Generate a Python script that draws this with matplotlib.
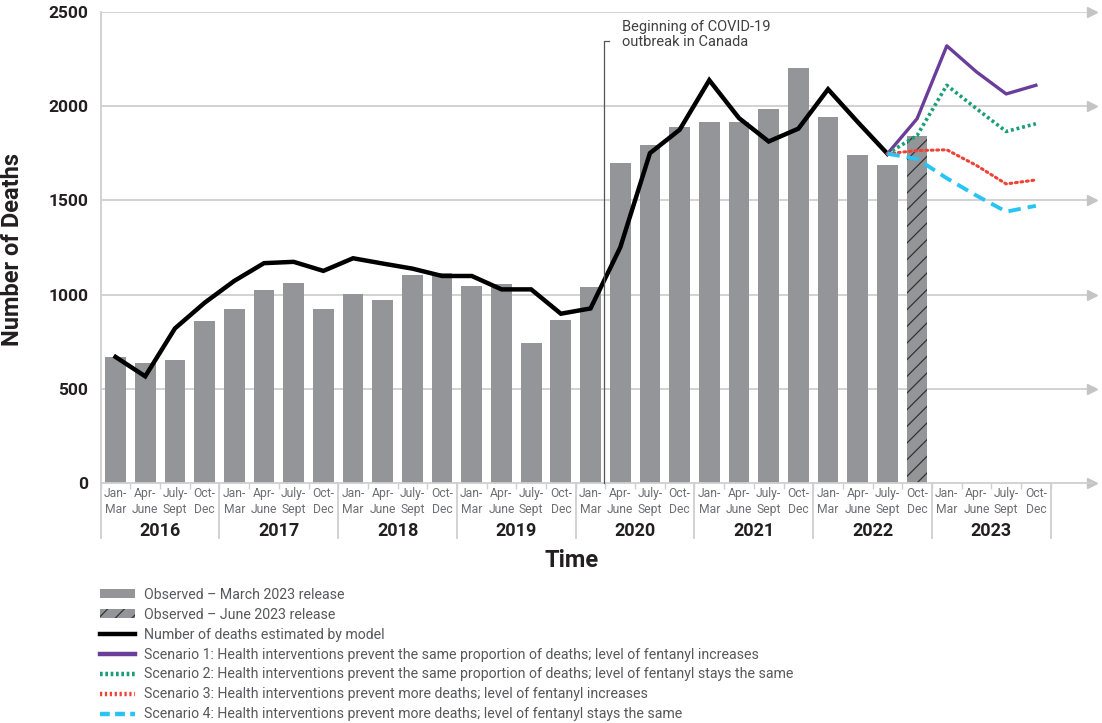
import numpy as np
import matplotlib
matplotlib.use("Agg")
import matplotlib.pyplot as plt
from matplotlib.patches import Patch
from matplotlib.lines import Line2D
from matplotlib.transforms import blended_transform_factory

plt.rcParams['font.family'] = ['Roboto', 'DejaVu Sans']
plt.rcParams['hatch.linewidth'] = 0.9

# data
years = [2016, 2017, 2018, 2019, 2020, 2021, 2022, 2023]
quarters = ["Jan-\nMar", "Apr-\nJune", "July-\nSept", "Oct-\nDec"]
observed_march = [670, 638, 656, 863, 922, 1025, 1060, 922, 1005, 973, 1105, 1115,
                  1046, 1057, 743, 865, 1042, 1699, 1796, 1887, 1917, 1917, 1984,
                  2204, 1940, 1743, 1685]
observed_june = [1841]
model = [670, 567, 821, 957, 1073, 1167, 1174, 1126, 1193, 1165, 1138, 1099,
         1099, 1028, 1028, 899, 927, 1250, 1750, 1874, 2137, 1936, 1812, 1880,
         2089, 1915, 1747]
scenario1 = [1747, 1933, 2319, 2181, 2064, 2110]
scenario2 = [1747, 1844, 2110, 1986, 1865, 1906]
scenario3 = [1747, 1764, 1768, 1685, 1587, 1608]
scenario4 = [1747, 1720, 1617, 1525, 1440, 1471]
yticks = [0, 500, 1000, 1500, 2000, 2500]

BAR = '#939598'
GRID = '#cfcfcf'
TXT = '#231f20'
LBL = '#6d6e71'
PURPLE = '#6a3d9a'
GREEN = '#1a9e77'
RED = '#ef4136'
BLUE = '#27c4f4'

n_q = len(years) * len(quarters)
x_obs = np.arange(len(observed_march))
x_june = np.arange(len(observed_march), len(observed_march) + len(observed_june))
x_model = np.arange(len(model))
x_scen = np.arange(len(model) - 1, len(model) - 1 + len(scenario1))

fig = plt.figure(figsize=(11.02, 7.23), dpi=100)
ax = fig.add_axes([100.7 / 1102, 1 - 483.3 / 723, (1092 - 100.7) / 1102, 471.6 / 723])
ax.set_xlim(-0.5, n_q - 0.5 + (1092 - 1050.7) / 29.69)
ax.set_ylim(0, 2500)

for s in ['top', 'right']:
    ax.spines[s].set_visible(False)
ax.spines['left'].set_color(GRID)
ax.spines['left'].set_linewidth(1.3)
ax.spines['bottom'].set_color(GRID)
ax.spines['bottom'].set_linewidth(1.3)

# gridlines with arrowheads
for v in yticks:
    if v > 0:
        ax.axhline(v, color=GRID, lw=1.3, zorder=0)
    ax.plot([ax.get_xlim()[1]], [v], marker='>', color='#c4c4c4', markersize=7,
            clip_on=False, zorder=0)

ax.bar(x_obs, observed_march, width=0.7, color=BAR, zorder=2)
ax.bar(x_june, observed_june, width=0.7, color=BAR, edgecolor='#333333',
       hatch='//', linewidth=0, zorder=2)

ax.plot(x_model, model, color='black', lw=3.2, solid_joinstyle='miter', zorder=4)
ax.plot(x_scen, scenario1, color=PURPLE, lw=2.4, zorder=5)
ax.plot(x_scen, scenario2, color=GREEN, lw=2.6, linestyle=(0, (0.8, 0.8)), zorder=5)
ax.plot(x_scen, scenario3, color=RED, lw=2.2, linestyle=(0, (0.6, 1.2)),
        dash_capstyle='round', zorder=5)
ax.plot(x_scen, scenario4, color=BLUE, lw=2.8, linestyle=(0, (3.2, 1.8)), zorder=5)

# y axis
ax.set_yticks(yticks)
ax.set_yticklabels([str(v) for v in yticks], fontsize=12.5, fontweight='bold', color=TXT)
ax.tick_params(axis='y', length=0, pad=9)
fig.text(13 / 1102, 1 - 250 / 723, "Number of Deaths", rotation=90, ha='center',
         va='center', fontsize=17, fontweight='bold', color=TXT)

# x axis: quarter labels, quarter ticks, year separators
ax.set_xticks(np.arange(n_q))
ax.set_xticklabels(quarters * len(years), fontsize=8.7, color=LBL, linespacing=1.25)
ax.tick_params(axis='x', length=0, pad=3)
ax.set_xticks(np.arange(n_q + 1) - 0.5, minor=True)
ax.tick_params(axis='x', which='minor', length=4, color=GRID, width=1)

trans = blended_transform_factory(ax.transData, ax.transAxes)
for k in range(len(years) + 1):
    xs = 4 * k - 0.5
    ax.plot([xs, xs], [0, -0.115], color=GRID, lw=1.3, transform=trans, clip_on=False)
for k, yr in enumerate(years):
    ax.text(4 * k + 1.5, -0.101, str(yr), transform=trans, ha='center', va='center',
            fontsize=13, fontweight='bold', color=TXT)
ax.text((n_q - 1) / 2 - 0.15, -0.163, "Time", transform=trans, ha='center', va='center',
        fontsize=17, fontweight='bold', color=TXT)

# COVID annotation
xc = 16.45
ax.plot([xc, xc, xc + 0.18], [0, 2346, 2346], color='#555555', lw=0.9, zorder=6,
        clip_on=False)
ax.text(17.05, 2455, "Beginning of COVID-19\noutbreak in Canada", ha='left', va='top',
        fontsize=10.5, color='#414042', linespacing=1.05)

# legend
handles = [
    Patch(facecolor=BAR, edgecolor='none'),
    Patch(facecolor=BAR, edgecolor='#333333', hatch='//', linewidth=0),
    Line2D([], [], color='black', lw=3.2),
    Line2D([], [], color=PURPLE, lw=3.2),
    Line2D([], [], color=GREEN, lw=3.2, linestyle=(0, (0.6, 0.6))),
    Line2D([], [], color=RED, lw=3.2, linestyle=(0, (0.5, 0.6))),
    Line2D([], [], color=BLUE, lw=3.2, linestyle=(0, (2.2, 1.2))),
]
labels = [
    "Observed \u2013 March 2023 release",
    "Observed \u2013 June 2023 release",
    "Number of deaths estimated by model",
    "Scenario 1: Health interventions prevent the same proportion of deaths; level of fentanyl increases",
    "Scenario 2: Health interventions prevent the same proportion of deaths; level of fentanyl stays the same",
    "Scenario 3: Health interventions prevent more deaths; level of fentanyl increases",
    "Scenario 4: Health interventions prevent more deaths; level of fentanyl stays the same",
]
leg = fig.legend(handles, labels, loc='upper left', bbox_to_anchor=(94 / 1102, 1 - 582 / 723),
                 frameon=False, fontsize=10.2, labelspacing=0.42, handlelength=2.5,
                 handleheight=0.6, handletextpad=0.6, borderaxespad=0)
for t in leg.get_texts():
    t.set_color('#58595b')

fig.savefig("out.png", dpi=100)
